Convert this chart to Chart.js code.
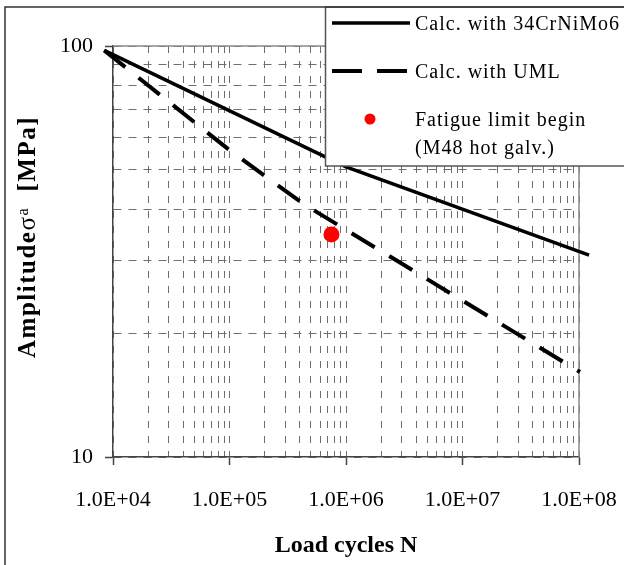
<!DOCTYPE html>
<html>
<head>
<meta charset="utf-8">
<title>S-N curve</title>
<script src="https://cdn.jsdelivr.net/npm/chart.js@4.4.1/dist/chart.umd.min.js"></script>
<style>
    html, body { margin: 0; padding: 0; background: #fff; }
    #wrap { width: 624px; height: 565px; }
</style>
</head>
<body>
<div id="wrap"><canvas id="snChart" width="624" height="565"></canvas></div>
<script>
/* ==========================================================
   S-N curves, log-log
========================================================== */

const SERIF = "'Liberation Serif', 'Times New Roman', serif";

// values: N = load cycles, S = amplitude [MPa]
const CRNIMO_N = [8.4e3, 1.0e6, 1.22e8];
const CRNIMO_S = [97.6, 50.8, 31.0];

const UML_N = [8.4e3, 1.0e5, 4.3e5, 1.02e8];
const UML_S = [97.6, 55.8, 41.3, 16.1];

const FATIGUE_N = [7.5e5];
const FATIGUE_S = [34.8];

const X_DECADES = [1e4, 1e5, 1e6, 1e7, 1e8];
const X_TICK_LABELS = ["1.0E+04", "1.0E+05", "1.0E+06", "1.0E+07", "1.0E+08"];
const Y_DECADES = [10, 100];
const Y_TICK_LABELS = ["10", "100"];
const MULTIPLIERS = [1, 2, 3, 4, 5, 6, 7, 8, 9];

const LEGEND_LABELS = ["Calc. with 34CrNiMo6", "Calc. with UML", "Fatigue limit begin", "(M48 hot galv.)"];

const COLORS = {
    line: "#000000",
    point: "#FF0000",
    grid: "#6E6E6E",
    axis: "#444444",
    plotBorder: "#8A8A8A",
    frame: "#333333"
};

Chart.defaults.font.family = SERIF;
Chart.defaults.color = "#000";

// 1..9 x every decade, closed by the last decade
function gridValues(decades) {
    const out = [];
    decades.slice(0, -1).forEach(d => MULTIPLIERS.forEach(m => out.push(m * d)));
    out.push(decades[decades.length - 1]);
    return out;
}

function decadeIndex(decades, v) {
    return decades.findIndex(d => Math.abs(d - v) / d < 1e-6);
}

const toPoints = (xs, ys) => xs.map((x, i) => ({ x: x, y: ys[i] }));

/* ---------- plugins ---------- */

const plotBorderPlugin = {
    id: "plotBorder",
    beforeDatasetsDraw(chart) {
        const { ctx, chartArea: a } = chart;
        ctx.save();
        ctx.strokeStyle = COLORS.plotBorder;
        ctx.lineWidth = 1.5;
        ctx.beginPath();
        ctx.moveTo(a.left, a.top);
        ctx.lineTo(a.right, a.top);
        ctx.lineTo(a.right, a.bottom);
        ctx.stroke();
        ctx.restore();
    }
};

const yTitlePlugin = {
    id: "yTitle",
    afterDraw(chart) {
        const ctx = chart.ctx;
        const parts = [
            { text: "Amplitude", font: "bold 25px " + SERIF, dy: 0 },
            { text: "σ", font: "25px " + SERIF, dy: 0 },
            { text: "a", font: "16px " + SERIF, dy: -7 },
            { text: "  [MPa]", font: "bold 25px " + SERIF, dy: 0 }
        ];
        ctx.save();
        ctx.translate(35, 358);
        ctx.rotate(-Math.PI / 2);
        ctx.fillStyle = "#000";
        ctx.textBaseline = "alphabetic";
        ctx.letterSpacing = "1.5px";
        let x = 0;
        parts.forEach(p => {
            ctx.font = p.font;
            ctx.fillText(p.text, x, p.dy);
            x += ctx.measureText(p.text).width;
        });
        ctx.restore();
    }
};

const boxLegendPlugin = {
    id: "boxLegend",
    afterDraw(chart) {
        const ctx = chart.ctx;
        const ds = chart.data.datasets;
        ctx.save();
        ctx.fillStyle = "#fff";
        ctx.fillRect(325, 7, 320, 159);
        ctx.strokeStyle = "#555";
        ctx.lineWidth = 1.5;
        ctx.strokeRect(325.5, 7, 320, 159);

        // line samples
        [0, 1].forEach((i, row) => {
            const y = 23 + row * 48;
            ctx.strokeStyle = ds[i].borderColor;
            ctx.lineWidth = ds[i].borderWidth;
            ctx.setLineDash(i === 1 ? [30, 15] : []);
            ctx.beginPath();
            ctx.moveTo(332, y);
            ctx.lineTo(410, y);
            ctx.stroke();
        });
        ctx.setLineDash([]);

        // point sample
        ctx.fillStyle = ds[2].pointBackgroundColor;
        ctx.beginPath();
        ctx.arc(370, 119, 5.5, 0, Math.PI * 2);
        ctx.fill();

        ctx.fillStyle = "#000";
        ctx.font = "20px " + SERIF;
        ctx.letterSpacing = "1px";
        ctx.textBaseline = "alphabetic";
        const baselines = [30, 78, 126, 154];
        LEGEND_LABELS.forEach((t, i) => ctx.fillText(t, 415, baselines[i]));

        // outer frame
        ctx.letterSpacing = "0px";
        ctx.strokeStyle = COLORS.frame;
        ctx.lineWidth = 1.5;
        ctx.strokeRect(5, 7, 700, 700);
        ctx.restore();
    }
};

/* ---------- chart ---------- */

new Chart(document.getElementById("snChart").getContext("2d"), {
    type: "line",
    data: {
        datasets: [
            {
                label: LEGEND_LABELS[0],
                data: toPoints(CRNIMO_N, CRNIMO_S),
                borderColor: COLORS.line,
                borderWidth: 3.5,
                borderCapStyle: "butt",
                pointRadius: 0,
                tension: 0,
                clip: false
            },
            {
                label: LEGEND_LABELS[1],
                data: toPoints(UML_N, UML_S),
                borderColor: COLORS.line,
                borderWidth: 4,
                borderDash: [27, 17],
                borderCapStyle: "butt",
                pointRadius: 0,
                tension: 0,
                clip: false
            },
            {
                label: LEGEND_LABELS[2],
                data: toPoints(FATIGUE_N, FATIGUE_S),
                showLine: false,
                pointRadius: 8,
                pointBorderWidth: 0,
                pointBackgroundColor: COLORS.point,
                pointBorderColor: COLORS.point,
                clip: false
            }
        ]
    },
    options: {
        responsive: false,
        animation: false,
        events: [],
        layout: { padding: { left: 0, top: 46, right: 45, bottom: 0 } },
        plugins: {
            legend: { display: false },
            tooltip: { enabled: false }
        },
        scales: {
            x: {
                type: "logarithmic",
                min: 1e4,
                max: 1e8,
                afterBuildTicks: (scale) => {
                    scale.ticks = gridValues(X_DECADES).map(v => ({ value: v }));
                },
                afterFit: (scale) => {
                    scale.height = 108;
                    scale.paddingLeft = 0;
                    scale.paddingRight = 0;
                },
                ticks: {
                    autoSkip: false,
                    maxRotation: 0,
                    minRotation: 0,
                    padding: 22,
                    color: "#000",
                    font: { size: 22 },
                    callback: (v) => {
                        const i = decadeIndex(X_DECADES, v);
                        return i >= 0 ? X_TICK_LABELS[i] : "";
                    }
                },
                grid: {
                    color: COLORS.grid,
                    lineWidth: 1,
                    tickLength: 8,
                    tickWidth: 1.5,
                    tickColor: (c) => (c.tick && decadeIndex(X_DECADES, c.tick.value) >= 0) ? COLORS.axis : "transparent"
                },
                border: { color: COLORS.axis, width: 1.5, dash: [7, 8] },
                title: {
                    display: true,
                    text: "Load cycles N",
                    color: "#000",
                    font: { size: 24, weight: "bold" },
                    padding: { top: 0, bottom: 5 }
                }
            },
            y: {
                type: "logarithmic",
                min: 10,
                max: 100,
                afterBuildTicks: (scale) => {
                    scale.ticks = gridValues(Y_DECADES).map(v => ({ value: v }));
                },
                afterFit: (scale) => {
                    scale.width = 113;
                    scale.paddingTop = 0;
                    scale.paddingBottom = 0;
                },
                ticks: {
                    autoSkip: false,
                    padding: 12,
                    color: "#000",
                    font: { size: 22 },
                    callback: (v) => {
                        const i = decadeIndex(Y_DECADES, v);
                        return i >= 0 ? Y_TICK_LABELS[i] : "";
                    }
                },
                grid: {
                    color: COLORS.grid,
                    lineWidth: 1,
                    tickLength: 8,
                    tickWidth: 1.5,
                    tickColor: (c) => (c.tick && decadeIndex(Y_DECADES, c.tick.value) >= 0) ? COLORS.axis : "transparent"
                },
                border: { color: COLORS.axis, width: 1.5, dash: [8, 7] }
            }
        }
    },
    plugins: [plotBorderPlugin, yTitlePlugin, boxLegendPlugin]
});
</script>
</body>
</html>
